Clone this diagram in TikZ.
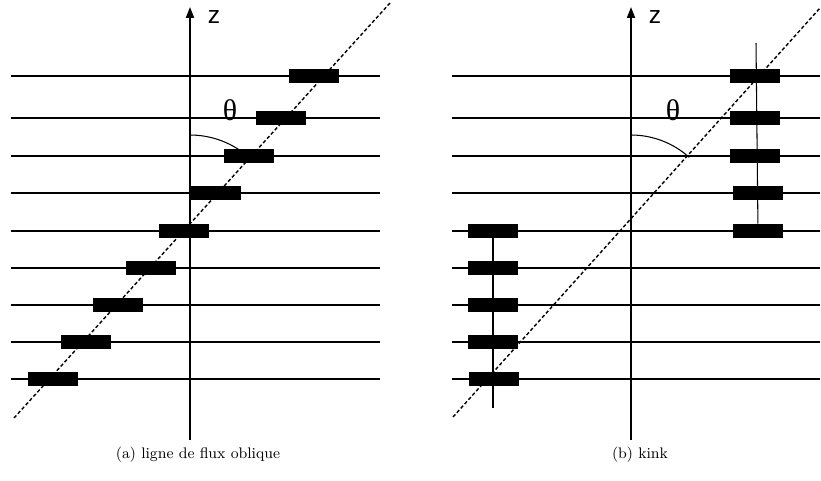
\documentclass[tikz,border=0pt]{standalone}
\usepackage{fontspec}
\newfontfamily\zfont{Liberation Sans}
\newfontfamily\thfont{Liberation Serif}
\usetikzlibrary{arrows.meta}

\begin{document}
\begin{tikzpicture}[x=0.02cm,y=-0.02cm,>={Triangle[length=2.2mm,width=1.6mm]},
  vortex/.style={fill=black,inner sep=0pt,minimum width=1cm,minimum height=0.28cm},
  plane/.style={line width=0.6pt},
  axis/.style={->,line width=1.1pt},
  fluxline/.style={line width=0.8pt,dash pattern=on 2pt off 1.3pt},
  zlabel/.style={font=\zfont\fontsize{14}{14}\selectfont},
  anglabel/.style={font=\thfont\fontsize{17}{17}\selectfont},
  caption/.style={font=\fontsize{8.7}{10}\selectfont}]
\useasboundingbox (0,0) rectangle (821,480);
% planes
\draw[plane] (11,76) -- (380,76) (452,76) -- (820,76);
\draw[plane] (11,118) -- (380,118) (452,118) -- (820,118);
\draw[plane] (11,156) -- (380,156) (452,156) -- (820,156);
\draw[plane] (11,193) -- (380,193) (452,193) -- (820,193);
\draw[plane] (11,231) -- (380,231) (452,231) -- (820,231);
\draw[plane] (11,268) -- (380,268) (452,268) -- (820,268);
\draw[plane] (11,305) -- (380,305) (452,305) -- (820,305);
\draw[plane] (11,342) -- (380,342) (452,342) -- (820,342);
\draw[plane] (11,379) -- (380,379) (452,379) -- (820,379);
% (a) oblique
\coordinate (za0) at (190,440);
\coordinate (za1) at (190,7);
\draw[axis] (za0) -- (za1);
\node[zlabel] (za) at (214,17) {z};
\coordinate (fa0) at (14,418);
\coordinate (fa1) at (390,3);
\draw[fluxline] (fa0) -- (fa1);
\draw[plane] (190,135) arc[start angle=-90,end angle=-48,radius=89];
\node[anglabel] (tha) at (230,110) {θ};
\node[vortex] (ob1) at (314,76) {};
\node[vortex] (ob2) at (281,118) {};
\node[vortex] (ob3) at (249,156) {};
\node[vortex] (ob4) at (216,193) {};
\node[vortex] (ob5) at (184,231) {};
\node[vortex] (ob6) at (151,268) {};
\node[vortex] (ob7) at (118,305) {};
\node[vortex] (ob8) at (86,342) {};
\node[vortex] (ob9) at (53,379) {};
\node[caption] (capa) at (198,455) {(a) ligne de flux oblique};
% (b) kink
\coordinate (zb0) at (631,440);
\coordinate (zb1) at (631,7);
\draw[axis] (zb0) -- (zb1);
\node[zlabel] (zb) at (655,17) {z};
\coordinate (fb0) at (453,417);
\coordinate (fb1) at (820,8);
\draw[fluxline] (fb0) -- (fb1);
\draw[plane] (631,135) arc[start angle=-90,end angle=-48,radius=87];
\node[anglabel] (thb) at (673,110) {θ};
\node[vortex] (kr1) at (755,76) {};
\node[vortex] (kr2) at (755,118) {};
\node[vortex] (kr3) at (755,156) {};
\node[vortex] (kr4) at (758,193) {};
\node[vortex] (kr5) at (758,231) {};
\node[vortex] (kl1) at (493,231) {};
\node[vortex] (kl2) at (493,268) {};
\node[vortex] (kl3) at (493,305) {};
\node[vortex] (kl4) at (493,342) {};
\node[vortex] (kl5) at (494,379) {};
\coordinate (ktop) at (756,43);
\coordinate (kbot) at (493,408);
\draw[plane] (ktop) -- (kr5);
\draw[plane] (kl1) -- (kbot);
\node[caption] (capb) at (640,455) {(b) kink};
\end{tikzpicture}
\end{document}
